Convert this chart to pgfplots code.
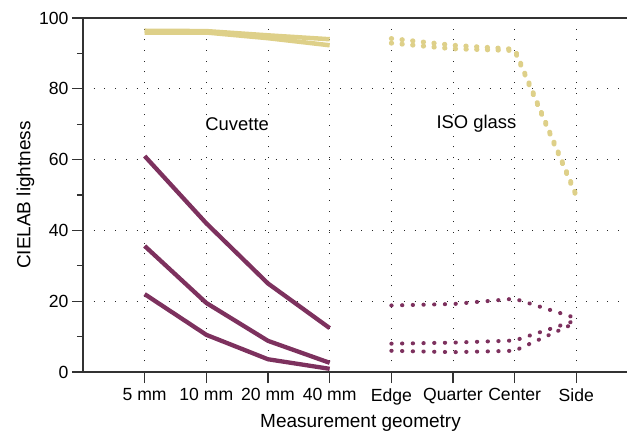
\documentclass[border=0pt]{standalone}
\usepackage{fontspec}
\setmainfont{Liberation Sans}
\usepackage{pgfplots}
\pgfplotsset{compat=1.18}
\definecolor{cpurple}{RGB}{125,49,94}
\definecolor{cyellow}{RGB}{222,208,137}
\definecolor{caxis}{RGB}{50,50,50}
\begin{document}
\begin{tikzpicture}[font=\fontsize{19bp}{22bp}\selectfont]
\begin{axis}[
  scale only axis, width=555bp, height=354bp,
  xmin=-1, xmax=8, ymin=0, ymax=100,
  xtick={0,...,7},
  xticklabels={5 mm,10 mm,20 mm,40 mm,Edge,Quarter,Center,Side},
  ytick={0,20,...,100}, minor ytick={10,30,50,70,90},
  tick align=outside, xtick pos=bottom, ytick pos=left,
  major tick length=11bp, minor tick length=6bp,
  tick label style={font=\fontsize{17.6bp}{20bp}\selectfont},
  xticklabel style={yshift=-2bp},
  xmajorgrids, ymajorgrids,
  grid style={black!85, line width=1bp, dash pattern=on 1bp off 9.7bp},
  axis line style={caxis, line width=1.2bp},
  tick style={caxis, line width=1.2bp},
  xlabel={Measurement geometry}, ylabel={CIELAB lightness},
  xlabel style={at={(axis description cs:0.5,0)}, anchor=base, yshift=-55bp},
  ylabel style={yshift=-2bp},
  /pgf/number format/assume math mode=true,
  every axis plot/.append style={line join=round},
  iso/.style={line width=#1, line cap=round, dash pattern=on 0.3bp off 10.4bp},
]
% Cuvette, yellow
\addplot[cyellow, line width=4.5bp] coordinates {(0,96.4) (1,96.3) (2,95.1) (3,94.0)};
\addplot[cyellow, line width=4.5bp] coordinates {(0,95.9) (1,95.9) (2,94.3) (3,92.3)};
% Cuvette, purple
\addplot[cpurple, line width=4.3bp] coordinates {(0,61.0) (1,42.0) (2,25.0) (3,12.4)};
\addplot[cpurple, line width=4.3bp] coordinates {(0,35.6) (1,19.5) (2,8.8) (3,2.6)};
\addplot[cpurple, line width=4.3bp] coordinates {(0,22.0) (1,10.5) (2,3.6) (3,0.9)};
% ISO glass, yellow dotted
\addplot[cyellow, iso=5bp] coordinates {(4,94.2) (5,92.3) (6,91.2) (7,50.0)};
\addplot[cyellow, iso=5bp] coordinates {(4,92.9) (5,91.3) (6,90.8) (7,49.6)};
% ISO glass, purple dotted
\addplot[cpurple, iso=4bp] coordinates {(4,18.8) (5,19.2) (6,20.7) (7,15.2)};
\addplot[cpurple, iso=4bp] coordinates {(4,8.0) (5,8.3) (6,8.9) (7,14.6)};
\addplot[cpurple, iso=4bp] coordinates {(4,6.0) (5,5.6) (6,6.0) (7,14.0)};
\node[fill=white, inner sep=1bp, font=\fontsize{18.4bp}{21bp}\selectfont] at (axis cs:1.5,70) {Cuvette};
\node[fill=white, inner sep=1bp, font=\fontsize{18.4bp}{21bp}\selectfont] at (axis cs:5.38,70) {ISO glass};
\end{axis}
\pgfresetboundingbox
\path ([shift={(-83bp,-60bp)}]current axis.south west) rectangle ([shift={(-11bp,18bp)}]current axis.north east);
\end{tikzpicture}
\end{document}
